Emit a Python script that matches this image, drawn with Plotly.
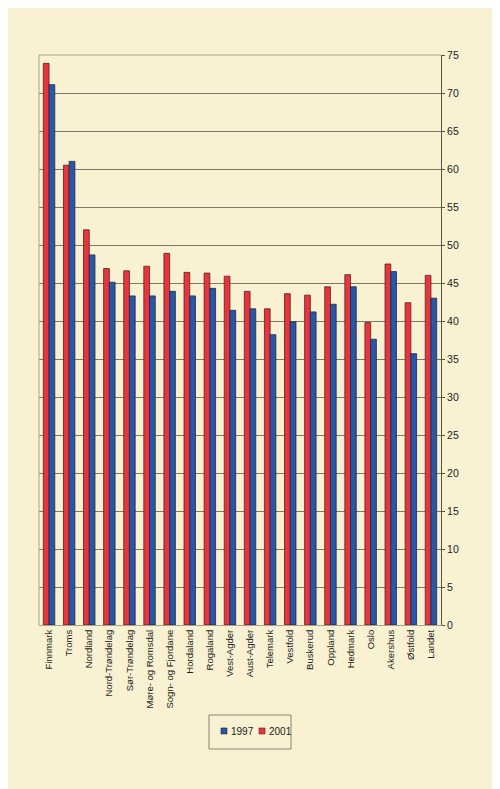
import plotly.graph_objects as go

fylker = ["Finnmark", "Troms", "Nordland", "Nord-Trøndelag", "Sør-Trøndelag",
          "Møre- og Romsdal", "Sogn- og Fjordane", "Hordaland", "Rogaland",
          "Vest-Agder", "Aust-Agder", "Telemark", "Vestfold", "Buskerud",
          "Oppland", "Hedmark", "Oslo", "Akershus", "Østfold", "Landet"]
v2001 = [73.9, 60.5, 52.0, 46.9, 46.6, 47.2, 48.9, 46.4, 46.3, 45.9,
         43.9, 41.6, 43.6, 43.4, 44.5, 46.1, 39.8, 47.5, 42.4, 46.0]
v1997 = [71.1, 61.0, 48.7, 45.1, 43.3, 43.3, 43.9, 43.3, 44.3, 41.4,
         41.6, 38.2, 39.9, 41.2, 42.2, 44.5, 37.6, 46.5, 35.7, 43.0]

bg = "#F8F1D2"
red = "#E8343C"
blue = "#2A56A3"
fig = go.Figure()
fig.add_trace(go.Bar(x=fylker, y=v2001, name="2001",
                     marker=dict(color=red, line=dict(color="#5a2020", width=0.8))))
fig.add_trace(go.Bar(x=fylker, y=v1997, name="1997",
                     marker=dict(color=blue, line=dict(color="#1c2a4a", width=0.8))))

# hand made legend (compact, like the original)
legend_shapes = [
    dict(type="rect", xref="paper", yref="paper", x0=0.4229, x1=0.6269,
         y0=-0.1579, y1=-0.2175, line=dict(color="#8a8670", width=1)),
    dict(type="rect", xref="paper", yref="paper", x0=0.4527, x1=0.4677,
         y0=-0.1807, y1=-0.1912, fillcolor=blue, line=dict(color="#1c2a4a", width=0.6)),
    dict(type="rect", xref="paper", yref="paper", x0=0.5473, x1=0.5622,
         y0=-0.1807, y1=-0.1912, fillcolor=red, line=dict(color="#5a2020", width=0.6)),
]
legend_text = [
    dict(text="1997", xref="paper", yref="paper", x=0.4726, y=-0.186,
         xanchor="left", yanchor="middle", showarrow=False, font=dict(size=10)),
    dict(text="2001", xref="paper", yref="paper", x=0.5672, y=-0.186,
         xanchor="left", yanchor="middle", showarrow=False, font=dict(size=10)),
]

fig.update_layout(
    width=500, height=789,
    margin=dict(l=31, r=67, t=47, b=172),
    paper_bgcolor=bg, plot_bgcolor=bg,
    font=dict(family="Liberation Sans, Arial", size=10, color="#222222"),
    barmode="group", bargap=0.43, bargroupgap=0,
    showlegend=False,
    xaxis=dict(tickangle=-90, showline=True, linecolor="#aaa38a", linewidth=1,
               ticks="", tickfont=dict(size=9.5)),
    yaxis=dict(side="right", range=[0, 75], dtick=5, showline=True,
               linecolor="#555544", linewidth=1, ticks="outside", ticklen=3,
               tickcolor="#555544", gridcolor="#7d7a68", gridwidth=1,
               zeroline=False, tickfont=dict(size=10.5)),
    shapes=[dict(type="line", xref="paper", yref="paper", x0=0, x1=0, y0=0, y1=1,
                 line=dict(color="#aaa38a", width=1)),
            dict(type="line", xref="paper", yref="paper", x0=0, x1=1, y0=1, y1=1,
                 line=dict(color="#aaa38a", width=1))] + legend_shapes,
    annotations=legend_text,
)
fig.write_html("out.html")
